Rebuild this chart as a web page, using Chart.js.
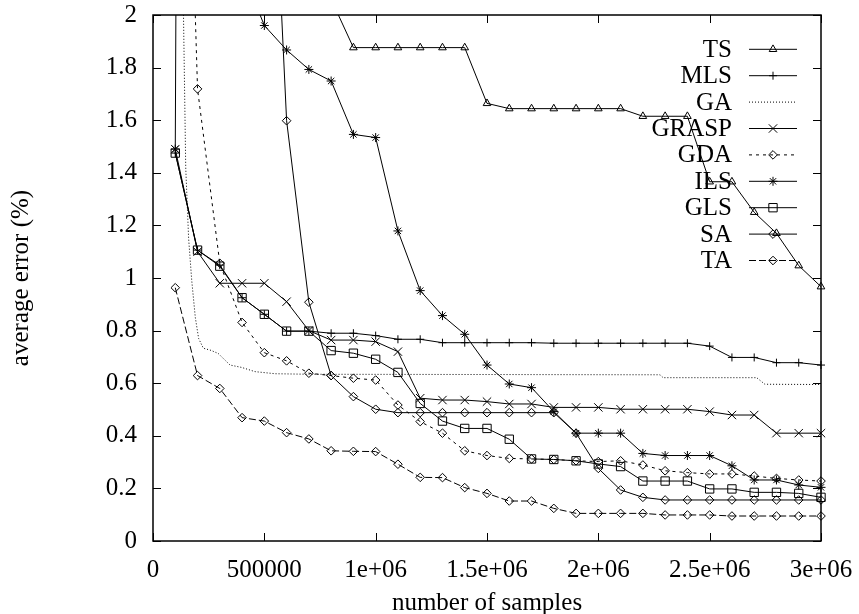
<!DOCTYPE html>
<html>
<head>
<meta charset="utf-8">
<title>average error vs number of samples</title>
<script src="https://cdn.jsdelivr.net/npm/chart.js@4.4.1/dist/chart.umd.min.js"></script>
<style>
    html, body { margin: 0; padding: 0; background: #fff; }
    #wrap { width: 859px; height: 614px; }
</style>
</head>
<body>
<div id="wrap"><canvas id="errorChart" width="859" height="614"></canvas></div>
<script>
// number of samples (x) shared by all marked series
const samples = [100000, 200000, 300000, 400000, 500000, 600000, 700000, 800000, 900000, 1000000,
    1100000, 1200000, 1300000, 1400000, 1500000, 1600000, 1700000, 1800000, 1900000, 2000000,
    2100000, 2200000, 2300000, 2400000, 2500000, 2600000, 2700000, 2800000, 2900000, 3000000];

// average error (%) per algorithm, one value per sample count
const tsErr = [5.0, 4.4, 3.8, 3.3, 2.8, 2.45, 2.2, 2.06, 1.876, 1.876, 1.876, 1.876, 1.876, 1.876, 1.664,
    1.644, 1.644, 1.644, 1.644, 1.644, 1.644, 1.615, 1.615, 1.615, 1.366, 1.366, 1.25, 1.17, 1.047, 0.967];
const mlsErr = [1.475, 1.106, 1.049, 0.925, 0.862, 0.798, 0.798, 0.79, 0.79, 0.781, 0.767, 0.767, 0.754, 0.754, 0.754,
    0.754, 0.754, 0.752, 0.752, 0.752, 0.752, 0.752, 0.752, 0.752, 0.741, 0.698, 0.698, 0.678, 0.678, 0.669];
const graspErr = [1.49, 1.10, 0.98, 0.98, 0.98, 0.91, 0.80, 0.764, 0.764, 0.758, 0.72, 0.543, 0.536, 0.536, 0.53,
    0.521, 0.521, 0.508, 0.508, 0.508, 0.501, 0.501, 0.501, 0.501, 0.492, 0.479, 0.479, 0.41, 0.41, 0.41];
const gdaErr = [4.5, 1.719, 1.056, 0.831, 0.716, 0.685, 0.638, 0.629, 0.619, 0.612, 0.517, 0.454, 0.41, 0.343, 0.325,
    0.314, 0.312, 0.31, 0.305, 0.302, 0.305, 0.289, 0.267, 0.26, 0.255, 0.255, 0.247, 0.238, 0.232, 0.228];
const ilsErr = [1.49, 20, 6, 2.17, 1.96, 1.867, 1.793, 1.749, 1.546, 1.534, 1.179, 0.952, 0.857, 0.786, 0.669,
    0.597, 0.583, 0.492, 0.41, 0.41, 0.41, 0.333, 0.325, 0.325, 0.325, 0.286, 0.232, 0.232, 0.213, 0.204];
const glsErr = [1.475, 1.106, 1.045, 0.925, 0.862, 0.798, 0.798, 0.724, 0.714, 0.691, 0.641, 0.523, 0.456, 0.428, 0.428,
    0.387, 0.312, 0.31, 0.305, 0.293, 0.283, 0.228, 0.228, 0.228, 0.198, 0.198, 0.185, 0.185, 0.181, 0.166];
const saErr = [12, 8, 5.5, 4.2, 3.4, 1.598, 0.908, 0.629, 0.549, 0.501, 0.488, 0.488, 0.488, 0.488, 0.488,
    0.488, 0.488, 0.488, 0.41, 0.276, 0.194, 0.166, 0.156, 0.156, 0.156, 0.156, 0.156, 0.156, 0.156, 0.156];
const taErr = [0.963, 0.629, 0.58, 0.469, 0.456, 0.412, 0.388, 0.343, 0.341, 0.34, 0.292, 0.242, 0.241, 0.203, 0.181,
    0.152, 0.152, 0.124, 0.105, 0.105, 0.105, 0.105, 0.099, 0.099, 0.099, 0.095, 0.095, 0.095, 0.095, 0.095];

// GA is plotted as a plain line with its own, finer sampling
const gaSamples = [130000, 147000, 160000, 174000, 190000, 205000, 226000, 260000, 293000, 323000, 346000,
    398000, 458000, 548000, 700000, 1500000, 2277000, 2291000, 2711000, 2748000, 3000000];
const gaErr = [2.4, 1.42, 1.15, 0.99, 0.85, 0.77, 0.733, 0.725, 0.713, 0.688, 0.669,
    0.66, 0.644, 0.636, 0.634, 0.633, 0.632, 0.621, 0.621, 0.596, 0.595];

const xTickLabels = ['0', '500000', '1e+06', '1.5e+06', '2e+06', '2.5e+06', '3e+06'];
const yTickLabels = ['0', '0.2', '0.4', '0.6', '0.8', '1', '1.2', '1.4', '1.6', '1.8', '2'];

const serif = '"Liberation Serif", "Times New Roman", "DejaVu Serif", serif';
Chart.defaults.font.family = serif;
Chart.defaults.color = '#000';

function toPoints(xs, ys) {
    return xs.map((x, i) => ({ x: x, y: ys[i] }));
}

function series(label, xs, ys, pointStyle, radius, dash) {
    return {
        label: label,
        data: toPoints(xs, ys),
        borderColor: '#000',
        borderWidth: 1,
        borderDash: dash,
        pointStyle: pointStyle,
        pointRadius: radius,
        pointBorderColor: '#000',
        pointBackgroundColor: 'rgba(0,0,0,0)',
        pointBorderWidth: 1,
        tension: 0,
        clip: { left: 8, right: 8, top: 0, bottom: 8 }
    };
}

// gnuplot style frame with inward ticks on all four sides
const frameTicks = {
    id: 'frameTicks',
    afterDatasetsDraw(chart) {
        const { ctx, chartArea: a, scales: { x, y } } = chart;
        ctx.save();
        ctx.strokeStyle = '#000';
        ctx.lineWidth = 1;
        ctx.beginPath();
        x.ticks.forEach(t => {
            const px = Math.round(x.getPixelForValue(t.value)) + 0.5;
            ctx.moveTo(px, a.bottom); ctx.lineTo(px, a.bottom - 8);
            ctx.moveTo(px, a.top); ctx.lineTo(px, a.top + 8);
        });
        y.ticks.forEach(t => {
            const py = Math.round(y.getPixelForValue(t.value)) + 0.5;
            ctx.moveTo(a.left, py); ctx.lineTo(a.left + 8, py);
            ctx.moveTo(a.right, py); ctx.lineTo(a.right - 8, py);
        });
        ctx.stroke();
        ctx.lineWidth = 1.5;
        ctx.strokeRect(a.left, a.top, a.right - a.left, a.bottom - a.top);
        ctx.restore();
    }
};

// key in the upper right: label right-aligned, then a line sample with its marker
const keyBox = {
    id: 'keyBox',
    afterDatasetsDraw(chart) {
        const { ctx, chartArea: a } = chart;
        const textRight = a.right - 89;
        const x0 = a.right - 72;
        const x1 = a.right - 24;
        ctx.save();
        ctx.font = '25px ' + serif;
        ctx.textAlign = 'right';
        ctx.textBaseline = 'middle';
        chart.data.datasets.forEach((ds, i) => {
            const yy = a.top + 34.3 + i * 26.4;
            ctx.fillStyle = '#000';
            ctx.fillText(ds.label, textRight, yy + 1);
            ctx.strokeStyle = '#000';
            ctx.lineWidth = 1;
            ctx.setLineDash(ds.borderDash || []);
            ctx.beginPath();
            ctx.moveTo(x0, yy);
            ctx.lineTo(x1, yy);
            ctx.stroke();
            ctx.setLineDash([]);
            if (ds.pointRadius > 0) {
                ctx.fillStyle = 'rgba(0,0,0,0)';
                Chart.helpers.drawPoint(ctx, {
                    pointStyle: ds.pointStyle, radius: ds.pointRadius, rotation: 0, borderWidth: 1
                }, (x0 + x1) / 2, yy);
            }
        });
        ctx.restore();
    }
};

const ctx = document.getElementById('errorChart').getContext('2d');
const errorChart = new Chart(ctx, {
    type: 'line',
    data: {
        datasets: [
            series('TS', samples, tsErr, 'triangle', 4.4, []),
            series('MLS', samples, mlsErr, 'cross', 4, []),
            series('GA', gaSamples, gaErr, false, 0, [1, 2]),
            series('GRASP', samples, graspErr, 'crossRot', 5.9, []),
            series('GDA', samples, gdaErr, 'rectRot', 4.3, [3, 4]),
            series('ILS', samples, ilsErr, 'star', 4.5, []),
            series('GLS', samples, glsErr, 'rect', 5.9, []),
            series('SA', samples, saErr, 'rectRot', 4.3, []),
            series('TA', samples, taErr, 'rectRot', 4.3, [7, 3])
        ]
    },
    options: {
        responsive: false,
        animation: false,
        layout: { padding: { top: 15, right: 38, left: 0, bottom: 0 } },
        plugins: {
            legend: { display: false },
            tooltip: { enabled: false }
        },
        scales: {
            x: {
                type: 'linear',
                min: 0,
                max: 3000000,
                grid: { display: false, drawTicks: false },
                border: { display: false },
                ticks: {
                    stepSize: 500000,
                    autoSkip: false,
                    maxRotation: 0,
                    padding: 14,
                    font: { size: 25 },
                    callback: (v, i) => xTickLabels[i]
                },
                title: {
                    display: true,
                    text: 'number of samples',
                    font: { size: 25, lineHeight: 1 },
                    padding: { top: 0, bottom: -2 }
                },
                afterFit(scale) {
                    scale.height = 73;
                    scale.paddingLeft = 0;
                    scale.paddingRight = 0;
                }
            },
            y: {
                type: 'linear',
                min: 0,
                max: 2,
                grid: { display: false, drawTicks: false },
                border: { display: false },
                ticks: {
                    stepSize: 0.2,
                    padding: 16,
                    font: { size: 25 },
                    callback: (v, i) => yTickLabels[i]
                },
                title: {
                    display: true,
                    text: 'average error (%)',
                    font: { size: 25, lineHeight: 1 },
                    padding: { top: 9, bottom: 0 }
                },
                afterFit(scale) {
                    scale.width = 153;
                    scale.paddingTop = 0;
                    scale.paddingBottom = 0;
                }
            }
        }
    },
    plugins: [frameTicks, keyBox]
});
</script>
</body>
</html>
